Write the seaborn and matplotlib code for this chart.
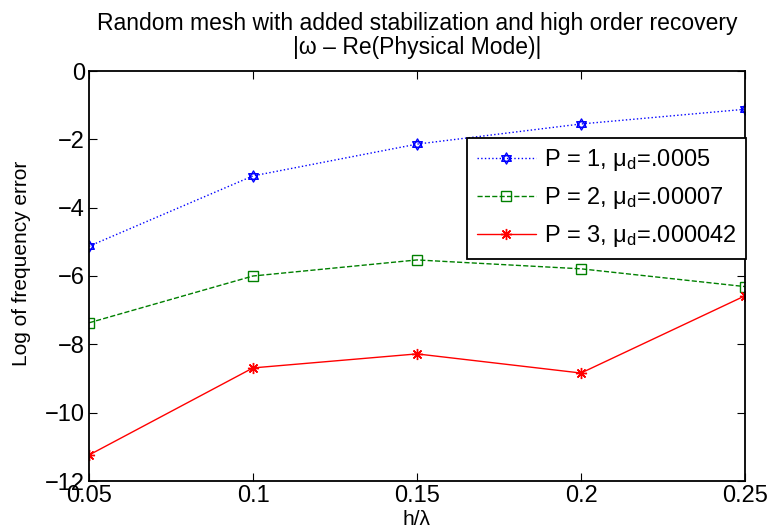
import numpy as np
import pandas as pd
import seaborn as sns
import matplotlib.pyplot as plt
from matplotlib.path import Path

# mesh size relative to wavelength
h_over_lambda = [0.05, 0.10, 0.15, 0.20, 0.25]

# log of frequency error for each polynomial order
err_p1 = [-5.13, -3.07, -2.14, -1.55, -1.12]
err_p2 = [-7.37, -6.00, -5.53, -5.79, -6.31]
err_p3 = [-11.24, -8.69, -8.28, -8.84, -6.58]

labels = [r"P = 1, $\mathregular{\mu_d}$=.0005",
          r"P = 2, $\mathregular{\mu_d}$=.00007",
          r"P = 3, $\mathregular{\mu_d}$=.000042"]

sns.set_style("ticks")
plt.rcParams["font.family"] = ["Liberation Sans", "DejaVu Sans"]
plt.rcParams["mathtext.fontset"] = "custom"
plt.rcParams["mathtext.rm"] = "Liberation Sans"
plt.rcParams["text.color"] = "black"
plt.rcParams["axes.labelcolor"] = "black"
plt.rcParams["xtick.color"] = "black"
plt.rcParams["ytick.color"] = "black"

# six-pointed star marker built from two overlapping triangles
s3 = np.sqrt(3) / 2
hexagram = Path(
    [(0, 1), (-s3, -0.5), (s3, -0.5), (0, 1),
     (0, -1), (-s3, 0.5), (s3, 0.5), (0, -1)],
    [Path.MOVETO, Path.LINETO, Path.LINETO, Path.CLOSEPOLY,
     Path.MOVETO, Path.LINETO, Path.LINETO, Path.CLOSEPOLY])

styles = [
    dict(color="#0000ff", linestyle=":", dashes=(1, 3.5), marker=hexagram, markersize=8),
    dict(color="#008000", linestyle="--", dashes=(6, 5), marker="s", markersize=7),
    dict(color="#ff0000", linestyle="-", marker=(8, 2, 0), markersize=8),
]

fig = plt.figure(figsize=(7.71, 5.32), dpi=100)
ax = fig.add_axes([89 / 771, 1 - 481 / 532, (745 - 89) / 771, (481 - 71) / 532])

for vals, lab, st in zip([err_p1, err_p2, err_p3], labels, styles):
    df = pd.DataFrame({"h": h_over_lambda, "err": vals})
    sns.lineplot(data=df, x="h", y="err", ax=ax, label=lab,
                 linewidth=1.0, markerfacecolor="none",
                 markeredgecolor=st["color"], markeredgewidth=1.0, **st)

ax.set_xlim(0.05, 0.25)
ax.set_ylim(-12, 0)
ax.set_xticks([0.05, 0.1, 0.15, 0.2, 0.25])
ax.set_xticklabels(["0.05", "0.1", "0.15", "0.2", "0.25"])
ax.set_yticks(np.arange(-12, 1, 2))
ax.set_yticklabels([f"{v}".replace("-", "\u2212") for v in range(-12, 1, 2)])
ax.tick_params(direction="in", top=True, right=True, labelsize=17,
               length=6, width=0.8, pad=3)
for sp in ax.spines.values():
    sp.set_visible(True)
    sp.set_linewidth(1.3)
    sp.set_color("black")

ax.set_xlabel("h/\u03bb", fontsize=15, labelpad=2)
ax.set_ylabel("Log of frequency error", fontsize=15)
ax.yaxis.set_label_coords(-0.088, 0.532)
ax.set_title("Random mesh with added stabilization and high order recovery\n"
             "|\u03c9 \u2013 Re(Physical Mode)|", fontsize=16.5, pad=12,
             linespacing=1.1)

leg = ax.legend(loc="upper right", bbox_to_anchor=(746 / 771, 1 - 138 / 532),
                bbox_transform=fig.transFigure, borderaxespad=0,
                fontsize=17, frameon=True, fancybox=False, framealpha=1,
                edgecolor="black", handlelength=2.5, handletextpad=0.35,
                labelspacing=0.5, borderpad=0.4)
leg.get_frame().set_linewidth(1.3)

fig.savefig("out.png", dpi=100)
